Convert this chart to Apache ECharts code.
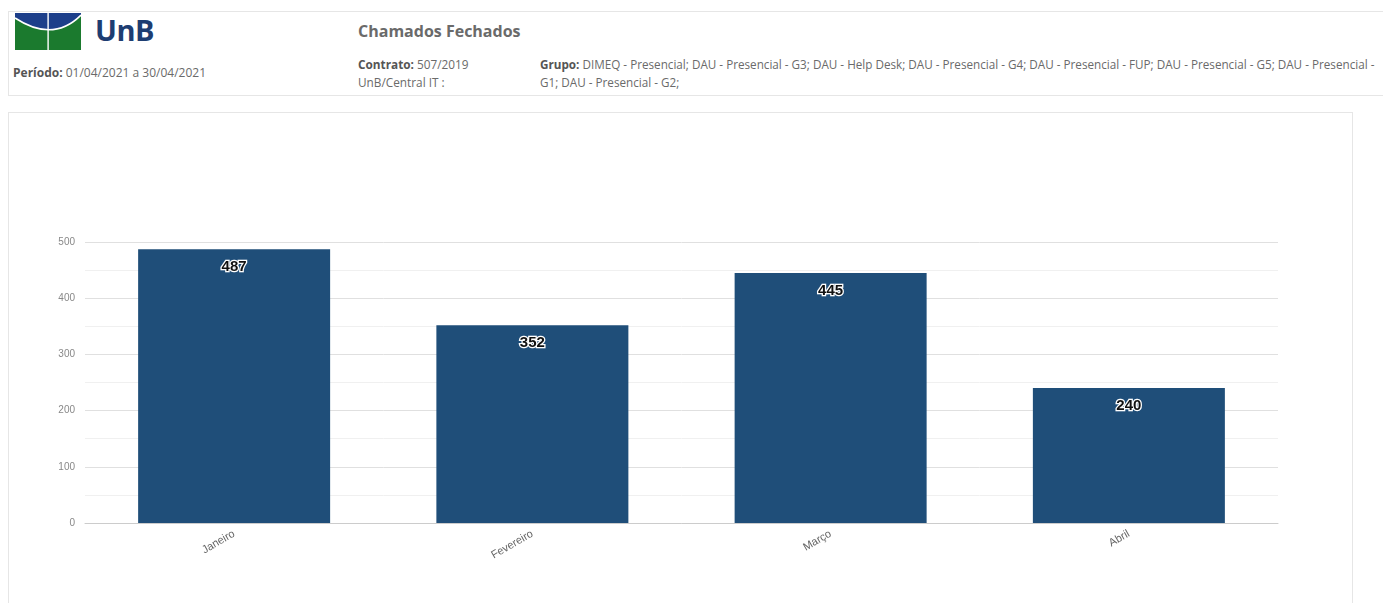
<!DOCTYPE html>
<html lang="pt-BR">
<head>
<meta charset="utf-8">
<title>Chamados Fechados</title>
<script src="https://cdn.jsdelivr.net/npm/echarts@6/dist/echarts.min.js"></script>
<style>
  html, body { margin: 0; padding: 0; background: #fff; width: 1383px; height: 603px; overflow: hidden; }
  body { position: relative; font-family: "Open Sans", "Noto Sans", sans-serif; color: #555; }
  .header { position: absolute; left: 8px; top: 11px; width: 1390px; height: 85px; border: 1px solid #e6e6e6; box-sizing: border-box; }
  .logo { position: absolute; left: 15px; top: 13px; }
  .brand { position: absolute; left: 95px; top: 12px; font-size: 29px; font-weight: 700; color: #1d3d72; line-height: 36px; font-family: "Open Sans", sans-serif; letter-spacing: -0.5px; }
  .periodo { position: absolute; left: 13px; top: 64px; font-size: 12px; color: #6a6a6a; }
  .titulo { position: absolute; left: 358px; top: 20px; font-size: 16px; font-weight: 700; color: #6a6a6a; }
  .contrato { position: absolute; left: 358px; top: 55px; font-size: 11.8px; color: #6a6a6a; line-height: 18px; }
  .grupo { position: absolute; left: 540px; top: 55px; font-size: 11.7px; color: #6a6a6a; line-height: 18px; white-space: nowrap; }
  b { color: #555; }
  .panel { position: absolute; left: 8px; top: 112px; width: 1345px; height: 500px; border: 1px solid #e6e6e6; box-sizing: border-box; }
  #chart { position: absolute; left: 9px; top: 113px; width: 1342px; height: 490px; }
</style>
</head>
<body>
<div class="header"></div>
<svg class="logo" width="66" height="37" viewBox="0 0 66 37">
  <rect x="0" y="0" width="66" height="37" fill="#1b7a2e"/>
  <path d="M0 0 H66 V2 Q38 30 0 5 Z" fill="#1d3f8a"/>
  <path d="M0 5 Q38 30 66 2" fill="none" stroke="#fff" stroke-width="1.6"/>
  <rect x="32.4" y="0" width="1.4" height="37" fill="#fff"/>
</svg>
<div class="brand">UnB</div>
<div class="periodo"><b>Período:</b> 01/04/2021 a 30/04/2021</div>
<div class="titulo">Chamados Fechados</div>
<div class="contrato"><b>Contrato:</b> 507/2019<br>UnB/Central IT :</div>
<div class="grupo"><b>Grupo:</b> DIMEQ - Presencial; DAU - Presencial - G3; DAU - Help Desk; DAU - Presencial - G4; DAU - Presencial - FUP; DAU - Presencial - G5; DAU - Presencial -<br>G1; DAU - Presencial - G2;</div>
<div class="panel"></div>
<div id="chart"></div>
<script>
// Monthly closed tickets
const meses = ['Janeiro', 'Fevereiro', 'Março', 'Abril'];
const chamadosFechados = [487, 352, 445, 240];
const yTicks = [0, 100, 200, 300, 400, 500];

const chart = echarts.init(document.getElementById('chart'), null, { renderer: 'canvas' });
chart.setOption({
  animation: false,
  grid: { left: 76, top: 129, width: 1193, height: 281, containLabel: false },
  xAxis: {
    type: 'category',
    data: meses,
    axisLine: { show: true, lineStyle: { color: '#cccccc' } },
    axisTick: { show: false },
    axisLabel: { rotate: 30, margin: 10, color: '#666', fontSize: 11, fontFamily: 'Arial, "Liberation Sans", sans-serif' }
  },
  yAxis: {
    type: 'value',
    min: yTicks[0],
    max: yTicks[yTicks.length - 1],
    interval: 100,
    axisLine: { show: false },
    axisTick: { show: false },
    axisLabel: { color: '#888', fontSize: 10, margin: 10, fontFamily: 'Arial, "Liberation Sans", sans-serif' },
    splitLine: { show: true, lineStyle: { color: '#e0e0e0' } },
    minorTick: { show: false, splitNumber: 2 },
    minorSplitLine: { show: true, lineStyle: { color: '#f0f0f0' } }
  },
  series: [{
    type: 'bar',
    data: chamadosFechados,
    barWidth: 192,
    itemStyle: { color: '#1f4e79' },
    label: {
      show: true,
      position: 'insideTop',
      distance: 10,
      color: '#111',
      fontSize: 15,
      fontWeight: 'bold',
      fontFamily: 'Arial, "Liberation Sans", sans-serif',
      textBorderColor: '#fff',
      textBorderWidth: 2.5
    }
  }]
});
</script>
</body>
</html>
